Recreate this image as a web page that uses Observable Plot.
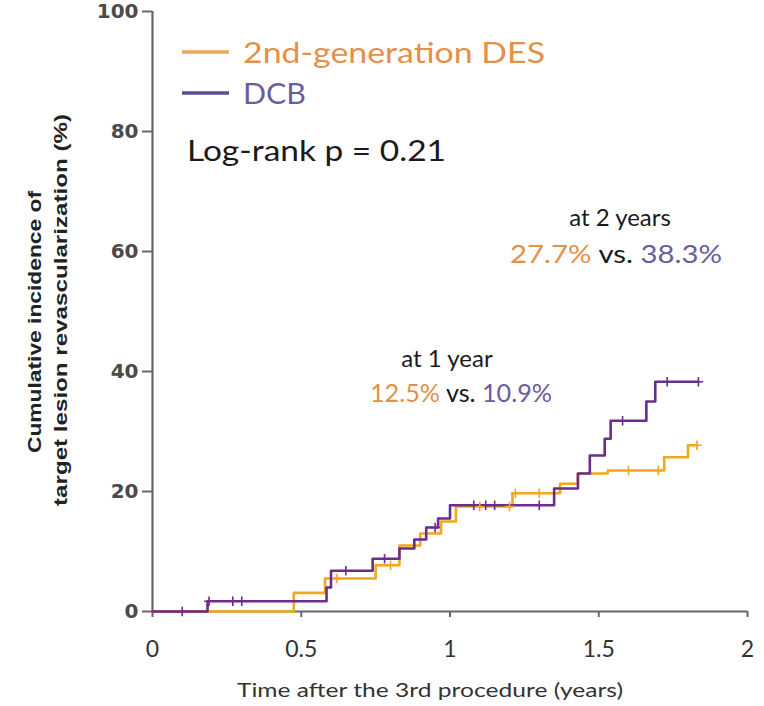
<!DOCTYPE html>
<html><head><meta charset="utf-8">
<script src="https://cdn.jsdelivr.net/npm/d3@7"></script>
<script src="https://cdn.jsdelivr.net/npm/@observablehq/plot@0.6"></script>
<style>body{margin:0;background:#fff}</style>
</head><body><div id="chart"></div>
<script>
// ---- data ----
const seriesNames = ["2nd-generation DES", "DCB"];
const desTime  = [0, 0.475, 0.58, 0.75, 0.83, 0.90, 0.97, 1.02, 1.21, 1.37, 1.43, 1.53, 1.72, 1.80, 1.83];
const desValue = [0, 3.1,   5.5,  7.7,  11.0, 13.0, 15.0, 17.5, 19.7, 21.3, 23.0, 23.5, 25.7, 27.7, 27.7];
const dcbTime  = [0, 0.185, 0.585, 0.60, 0.74, 0.83, 0.88, 0.92, 0.96, 1.00, 1.35, 1.43, 1.47, 1.52, 1.54, 1.66, 1.69, 1.835];
const dcbValue = [0, 1.7,   4.0,   6.8,  8.8,  10.5, 12.0, 14.0, 15.5, 17.7, 20.5, 23.0, 26.0, 28.8, 31.8, 35.0, 38.3, 38.3];
const desCensor = [0.62, 0.80, 1.10, 1.20, 1.22, 1.30, 1.60, 1.70, 1.83];
const dcbCensor = [0.10, 0.19, 0.27, 0.30, 0.65, 0.78, 0.95, 1.08, 1.12, 1.15, 1.30, 1.58, 1.73, 1.835];
const xTicks = [0, 0.5, 1, 1.5, 2];
const yTicks = [0, 20, 40, 60, 80, 100];
const xLabel = "Time after the 3rd procedure (years)";
const yLabelLines = ["Cumulative incidence of", "target lesion revascularization (%)"];
const logRank = "Log-rank p = 0.21";
const at1 = {title: "at 1 year", des: "12.5%", dcb: "10.9%"};
const at2 = {title: "at 2 years", des: "27.7%", dcb: "38.3%"};

// ---- build tables ----
const colors = {des: "#F2A81D", dcb: "#6A2C8E"};
const curves = [
  ...desTime.map((t, i) => ({t, v: desValue[i], s: seriesNames[0]})),
  ...dcbTime.map((t, i) => ({t, v: dcbValue[i], s: seriesNames[1]}))
];
function stepAt(times, values, t) {
  let v = values[0];
  for (let i = 0; i < times.length; i++) if (times[i] <= t) v = values[i];
  return v;
}
const censors = [
  ...desCensor.map(t => ({t, v: stepAt(desTime, desValue, t), s: seriesNames[0]})),
  ...dcbCensor.map(t => ({t, v: stepAt(dcbTime, dcbValue, t), s: seriesNames[1]}))
];

const axisColor = "#666";
const chart = Plot.plot({
  width: 764, height: 706,
  marginLeft: 152, marginRight: 17, marginTop: 11, marginBottom: 95,
  style: {background: "#fff", fontFamily: "Liberation Sans, Arial, sans-serif"},
  x: {domain: [0, 2]},
  y: {domain: [0, 100]},
  color: {domain: seriesNames, range: [colors.des, colors.dcb]},
  marks: [
    Plot.ruleX([0], {stroke: axisColor, strokeWidth: 2.2}),
    Plot.ruleY([0], {stroke: axisColor, strokeWidth: 2.2}),
    Plot.axisY({ticks: yTicks, tickSize: 10, tickPadding: 4, stroke: axisColor, strokeWidth: 2, fontSize: 20, fontWeight: "bold", fill: "#4a4a4a", label: null, fontFamily: "DejaVu Sans, sans-serif"}),
    Plot.axisX({ticks: xTicks, tickSize: 6, tickPadding: 23, stroke: axisColor, strokeWidth: 2, fontSize: 23, fill: "#333", label: null, tickFormat: d => String(d), fontFamily: "Lato, sans-serif"}),
    Plot.line(curves, {x: "t", y: "v", z: "s", stroke: "s", curve: "step-after", strokeWidth: 2.6}),
    Plot.dot(censors, {x: "t", y: "v", stroke: "s", symbol: "plus", r: 3.2, strokeWidth: 1.6})
  ]
});
document.getElementById("chart").appendChild(chart);

// ---- annotations ----
const svg = d3.select(chart);
const xs = chart.scale("x"), ys = chart.scale("y");
const sx = v => xs.apply(v), sy = v => ys.apply(v);
const txtOrange = "#E58F47", txtPurple = "#6C5C9C", txtBlack = "#1a1a1a";
const annoFont = "Lato, 'Open Sans', sans-serif";

// y axis title
yLabelLines.forEach((line, i) => {
  svg.append("text")
    .attr("transform", `translate(${i === 0 ? 41 : 67},${i === 0 ? 322 : 310}) rotate(-90)`)
    .attr("text-anchor", "middle")
    .attr("font-family", "Liberation Sans, Arial, sans-serif")
    .attr("font-size", 19).attr("font-weight", "bold").attr("fill", "#222")
    .attr("textLength", i === 0 ? 262 : 392).attr("lengthAdjust", "spacingAndGlyphs")
    .text(line);
});
// x axis title
svg.append("text").attr("x", 430).attr("y", 697).attr("text-anchor", "middle")
  .attr("font-family", annoFont).attr("font-size", 20).attr("fill", "#333")
  .attr("textLength", 386).attr("lengthAdjust", "spacingAndGlyphs").text(xLabel);

// legend
[[seriesNames[0], txtOrange, "#F0A35A", 63, 302], [seriesNames[1], txtPurple, "#5C4E94", 104, 63]].forEach(([name, tc, lc, by, len]) => {
  svg.append("line").attr("x1", 182).attr("x2", 229).attr("y1", by - 11).attr("y2", by - 11)
    .attr("stroke", lc).attr("stroke-width", 3.5);
  svg.append("text").attr("x", 243).attr("y", by).attr("text-anchor", "start").attr("font-family", annoFont)
    .attr("font-size", 28).attr("fill", tc)
    .attr("textLength", len).attr("lengthAdjust", "spacingAndGlyphs").text(name);
});
svg.append("text").attr("x", 187).attr("y", 161).attr("text-anchor", "start").attr("font-family", annoFont)
  .attr("font-size", 28).attr("fill", txtBlack)
  .attr("textLength", 259).attr("lengthAdjust", "spacingAndGlyphs").text(logRank);

function block(a, cx, cx2, y1, y2, len) {
  svg.append("text").attr("x", cx).attr("y", y1).attr("text-anchor", "middle")
    .attr("font-family", annoFont).attr("font-size", 24).attr("fill", txtBlack).text(a.title);
  const t = svg.append("text").attr("x", cx2).attr("y", y2).attr("text-anchor", "middle")
    .attr("font-family", annoFont).attr("font-size", 25)
    .attr("textLength", len).attr("lengthAdjust", "spacingAndGlyphs");
  t.append("tspan").attr("fill", txtOrange).text(a.des);
  t.append("tspan").attr("fill", txtBlack).text(" vs. ");
  t.append("tspan").attr("fill", txtPurple).text(a.dcb);
}
block(at2, 620, 616, 226, 263, 212);
block(at1, 447, 461, 367, 402, 182);
</script></body></html>
